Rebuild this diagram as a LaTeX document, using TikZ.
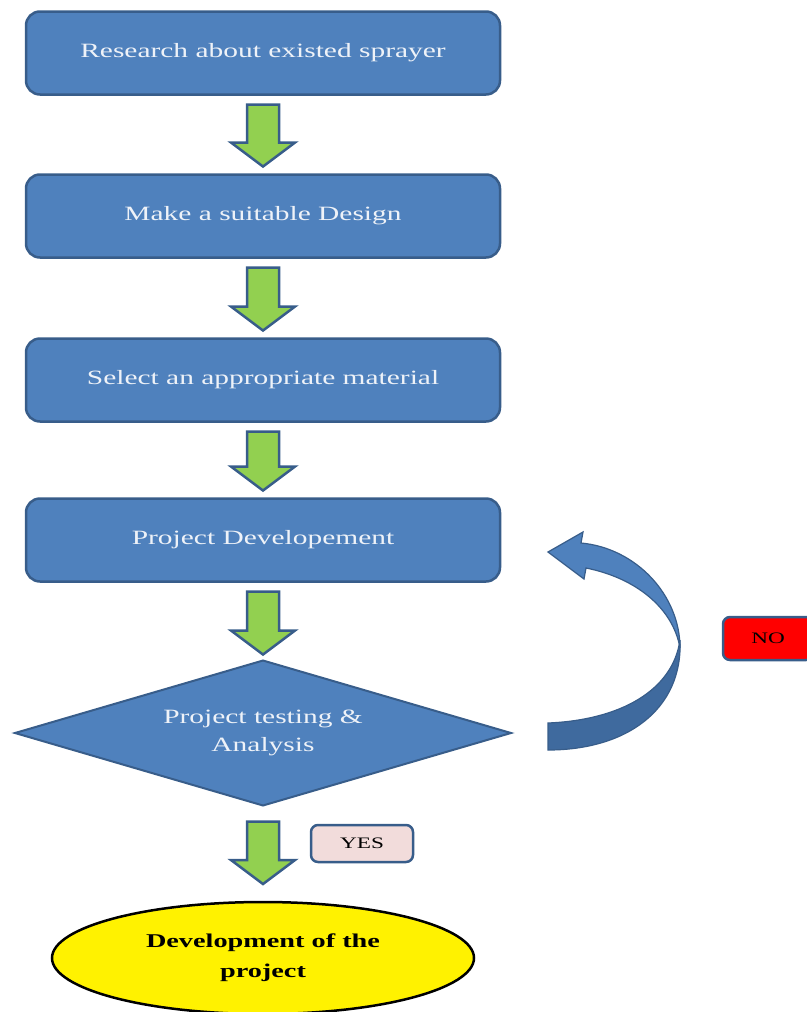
\documentclass[tikz,border=0pt]{standalone}
\usepackage{fontspec}
\setmainfont{Liberation Serif}[FakeStretch=1.45]
\usepackage{tikz}
\usetikzlibrary{calc,shapes.geometric}
\definecolor{stepblue}{HTML}{4F81BD}
\definecolor{edgeblue}{HTML}{385D8A}
\definecolor{backblue}{HTML}{3F6A9E}
\definecolor{arrowgreen}{HTML}{92D050}
\definecolor{lighttext}{HTML}{EEF2F8}
\definecolor{yespink}{HTML}{F2DCDB}

\begin{document}
\begin{tikzpicture}[x=1pt, y=-1pt,
  box/.style={draw=edgeblue, line width=2.5pt, rounded corners=14pt, fill=stepblue, text=lighttext, minimum width=474pt, minimum height=83pt, inner sep=0pt, outer sep=0pt, align=center, font=\fontsize{20.3}{28}\selectfont},
  decision/.style={diamond, aspect=3.42, draw=edgeblue, line width=2pt, fill=stepblue, text=lighttext, minimum width=496pt, minimum height=145pt, inner sep=0pt, outer sep=0pt, align=center, font=\fontsize{20.3}{28}\selectfont},
  tag/.style={draw=edgeblue, line width=2.5pt, rounded corners=7pt, fill=#1, text=black, inner sep=0pt, font=\fontsize{16}{18}\selectfont},
  goal/.style={ellipse, draw=black, line width=2.5pt, fill=yellow, minimum width=422pt, minimum height=112pt, inner sep=0pt, outer sep=0pt, align=center, font=\fontsize{19.5}{30}\selectfont\bfseries},
  garrow/.style={draw=edgeblue, line width=2.5pt, fill=arrowgreen, line join=miter},
  bend/.style={draw=edgeblue, line width=1.2pt, fill=#1},
]
\useasboundingbox (0,0) rectangle (806,1012);

\node[box] (res) at (263,53) {Research about existed sprayer};
\node[box] (des) at (263,216) {Make a suitable Design};
\node[box] (mat) at (263,380) {Select an appropriate material};
\node[box] (dev) at (263,540) {Project Developement};
\node[decision] (test) at (263,733) {Project testing \&\\Analysis};
\node[goal] (fin) at (263,958) {Development of the\\project};
\node[tag=red, minimum width=90pt, minimum height=43pt] (no) at (768,638.5) {NO};
\node[tag=yespink, minimum width=102pt, minimum height=37pt] (yes) at (362,843.5) {YES};

\foreach \a/\b/\ga/\gb in {res/des/10/8, des/mat/10/8, mat/dev/10/8, dev/test/10/6, test/fin/16/18} {
  \coordinate (s) at ($(\a.south)+(0,\ga)$);
  \coordinate (t) at ($(\b.north)+(0,-\gb)$);
  \draw[garrow] ($(s)+(-16,0)$) -- ($(s)+(16,0)$) -- ($(t)+(16,-24)$) -- ($(t)+(32,-24)$) -- (t)
    -- ($(t)+(-32,-24)$) -- ($(t)+(-16,-24)$) -- cycle;
}

\begin{scope}[shift={($(dev.east)+(48,12)$)}]
  \draw[bend=backblue] (0,171) .. controls (73,168) and (125,138) .. (132,88)
    .. controls (135,158) and (78,198) .. (0,198) -- cycle;
  \draw[bend=stepblue] (0,0) -- (35,-20) -- (33,-9) .. controls (88,-4) and (132,43) .. (132,96)
    .. controls (125,56) and (88,26) .. (38,16) -- (36,27) -- cycle;
\end{scope}
\end{tikzpicture}
\end{document}
